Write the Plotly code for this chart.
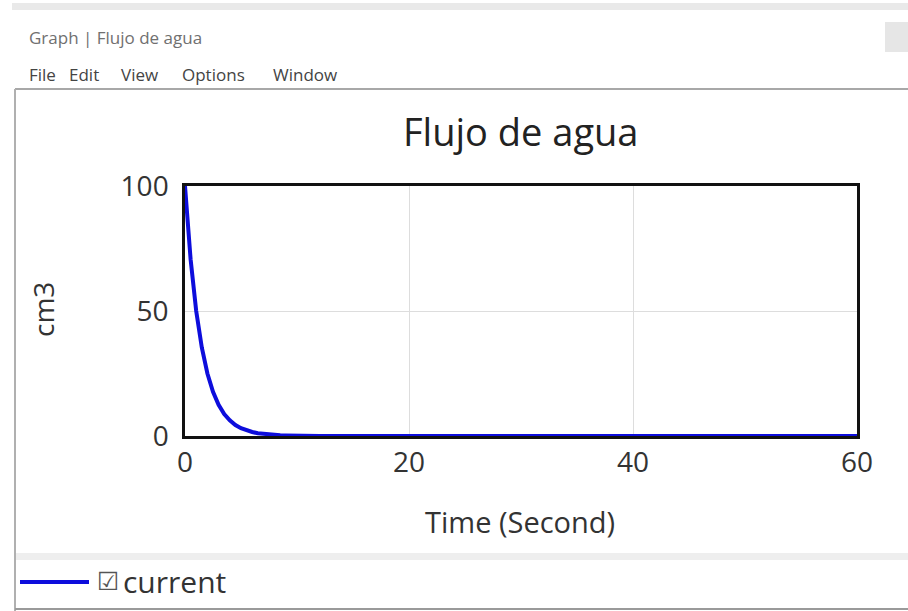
import plotly.graph_objects as go

# Flujo de agua -- stock draining
time_s = [0, 0.5, 1, 1.5, 2, 2.5, 3, 3.5, 4, 4.5, 5, 5.5, 6, 6.5, 7, 7.5, 8,
          8.5, 9, 9.5, 10, 11, 12, 15, 20, 30, 40, 50, 60]
current = [100, 70.7, 50, 35.4, 25, 17.7, 12.5, 8.8, 6.3, 4.4, 3.1, 2.2, 1.6,
           1.1, 0.8, 0.55, 0.4, 0.28, 0.2, 0.14, 0.1, 0.05, 0, 0, 0, 0, 0, 0, 0]
x_ticks = [0, 20, 40, 60]
y_ticks = [0, 50, 100]
menu_items = ["File", "Edit", "View", "Options", "Window"]
menu_x = [27, 67, 119, 180, 271]

W, H = 908, 611
FONT = "Open Sans"


def fx(px):
    return px / W


def fy(py):
    return 1 - py / H


fig = go.Figure()
fig.add_trace(go.Scatter(x=time_s, y=current, mode='lines', name='current',
                         line=dict(color='#0d0ddc', width=4), cliponaxis=False))

axis_style = dict(showline=True, mirror=True, linecolor='#111111', linewidth=2.5,
                  showgrid=True, gridcolor='#dddddd', gridwidth=1, zeroline=False,
                  ticks='', layer='below traces', automargin=False,
                  tickfont=dict(family=FONT, size=28, color='#333333'))

fig.update_xaxes(range=[0, 60], tickvals=x_ticks, domain=[fx(185), fx(857)],
                 ticklabelstandoff=0, **axis_style)
fig.update_yaxes(range=[0, 100], tickvals=y_ticks, domain=[fy(436), fy(186)],
                 ticklabelstandoff=8, **axis_style)

# window chrome
shapes = [
    dict(type='rect', x0=fx(12), x1=1, y0=fy(10), y1=fy(3), fillcolor='#e9e9e9', line_width=0),
    dict(type='rect', x0=fx(885), x1=1, y0=fy(52), y1=fy(22), fillcolor='#e6e6e6', line_width=0),
    dict(type='line', x0=fx(15), x1=1, y0=fy(89), y1=fy(89), line=dict(color='#a8a8a8', width=2)),
    dict(type='line', x0=fx(15), x1=fx(15), y0=fy(89), y1=0, line=dict(color='#b0b0b0', width=2)),
    dict(type='rect', x0=fx(16), x1=1, y0=fy(560), y1=fy(553), fillcolor='#eeeeee', line_width=0),
    dict(type='line', x0=fx(15), x1=1, y0=fy(609), y1=fy(609), line=dict(color='#9a9a9a', width=2)),
    dict(type='line', x0=fx(20), x1=fx(89), y0=fy(582), y1=fy(582), line=dict(color='#0d0ddc', width=4)),
]
for s in shapes:
    s.update(xref='paper', yref='paper', layer='below')

annotations = [
    dict(text='Graph | Flujo de agua', x=fx(27), y=fy(37), xanchor='left', yanchor='middle',
         font=dict(family=FONT, size=17, color='#707070')),
    dict(text='Flujo de agua', x=fx(520), y=fy(131), xanchor='center', yanchor='middle',
         font=dict(family=FONT, size=38, color='#222222')),
    dict(text='Time (Second)', x=fx(520), y=fy(521), xanchor='center', yanchor='middle',
         font=dict(family=FONT, size=29, color='#333333')),
    dict(text='cm3', x=fx(43), y=fy(310), xanchor='center', yanchor='middle', textangle=-90,
         font=dict(family=FONT, size=28, color='#333333')),
    dict(text='☑', x=fx(95), y=fy(581), xanchor='left', yanchor='middle',
         font=dict(family='DejaVu Sans', size=25, color='#555555')),
    dict(text='current', x=fx(121), y=fy(581), xanchor='left', yanchor='middle',
         font=dict(family=FONT, size=30, color='#333333')),
]
for name, px in zip(menu_items, menu_x):
    annotations.append(dict(text=name, x=fx(px), y=fy(75), xanchor='left', yanchor='middle',
                            font=dict(family=FONT, size=17, color='#444444')))
for a in annotations:
    a.update(xref='paper', yref='paper', showarrow=False)

fig.update_layout(width=W, height=H, margin=dict(l=0, r=0, t=0, b=0, autoexpand=False),
                  paper_bgcolor='white', plot_bgcolor='white', showlegend=False,
                  shapes=shapes, annotations=annotations)

# the page body keeps an 8px default margin; drop it so the figure fills the window
fig.write_html("out.html", config={'displayModeBar': False},
               post_script="document.body.style.margin = '0';")
